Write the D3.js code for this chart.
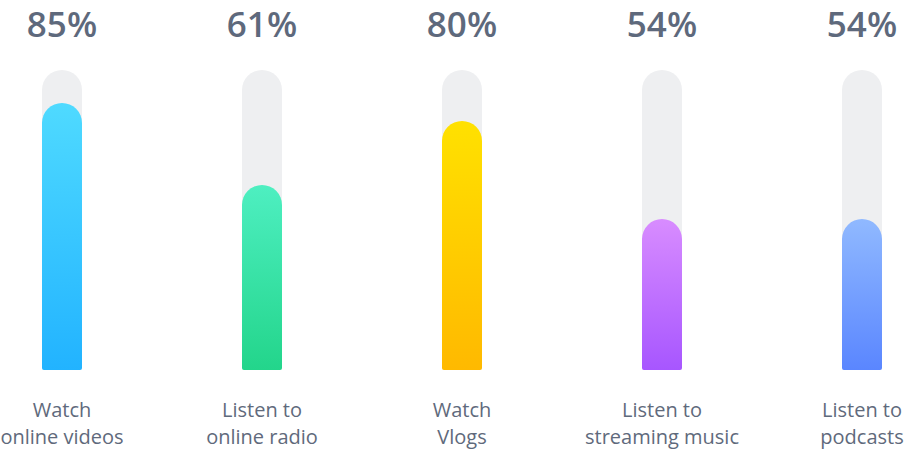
<!DOCTYPE html>
<html>
<head>
<meta charset="utf-8">
<script src="https://cdn.jsdelivr.net/npm/d3@7"></script>
<style>
  html, body { margin: 0; padding: 0; background: #fff; }
  svg { display: block; }
</style>
</head>
<body>
<div id="chart"></div>
<script>
const categories = ["online videos", "online radio", "Vlogs", "streaming music", "podcasts"];
const labelLines = [
    ["Watch", "online videos"],
    ["Listen to", "online radio"],
    ["Watch", "Vlogs"],
    ["Listen to", "streaming music"],
    ["Listen to", "podcasts"]
];
// printed percentages
const percentLabels = [85, 61, 80, 54, 54];
// filled share of each track, as drawn in the picture
const fillLevels = [0.89, 0.617, 0.83, 0.503, 0.503];
const topColors = ["#4fdaff", "#4eefc1", "#ffe100", "#d88cff", "#90b9ff"];
const bottomColors = ["#22b3ff", "#23d58b", "#ffb900", "#a756ff", "#5a86ff"];

const width = 905, height = 452;
const barW = 40;

const svg = d3.select("#chart").append("svg")
    .attr("width", width)
    .attr("height", height);

const x = d3.scalePoint()
    .domain(categories)
    .range([62, 862]);

const y = d3.scaleLinear()
    .domain([0, 1])
    .range([370, 70]);

const defs = svg.append("defs");
categories.forEach((c, i) => {
    const g = defs.append("linearGradient")
        .attr("id", "grad" + i)
        .attr("x1", 0).attr("y1", 0)
        .attr("x2", 0).attr("y2", 1);
    g.append("stop").attr("offset", "0%").attr("stop-color", topColors[i]);
    g.append("stop").attr("offset", "100%").attr("stop-color", bottomColors[i]);
});

// rounded top, nearly square bottom
function pillPath(cx, top, bottom, w) {
    const r = w / 2, br = 2;
    const l = cx - r, rt = cx + r;
    return `M${l},${top + r}A${r},${r} 0 0 1 ${rt},${top + r}` +
        `L${rt},${bottom - br}Q${rt},${bottom} ${rt - br},${bottom}` +
        `L${l + br},${bottom}Q${l},${bottom} ${l},${bottom - br}Z`;
}

const groups = svg.selectAll(".bar")
    .data(categories)
    .join("g")
    .attr("class", "bar");

groups.append("path")
    .attr("fill", "#eeeff1")
    .attr("d", d => pillPath(x(d), y(1), y(0), barW));

groups.append("path")
    .attr("fill", (d, i) => `url(#grad${i})`)
    .attr("d", (d, i) => pillPath(x(d), y(fillLevels[i]), y(0), barW));

groups.append("text")
    .attr("x", d => x(d))
    .attr("y", 37)
    .attr("text-anchor", "middle")
    .attr("font-family", "'Open Sans', sans-serif")
    .attr("font-size", 35)
    .attr("font-weight", 600)
    .attr("fill", "#5e697c")
    .text((d, i) => percentLabels[i] + "%");

groups.each(function(d, i) {
    const t = d3.select(this).append("text")
        .attr("text-anchor", "middle")
        .attr("font-family", "'Open Sans', sans-serif")
        .attr("font-size", 20)
        .attr("fill", "#5f6a7c");
    labelLines[i].forEach((line, j) => {
        t.append("tspan")
            .attr("x", x(d))
            .attr("y", 417 + j * 27)
            .text(line);
    });
});
</script>
</body>
</html>
